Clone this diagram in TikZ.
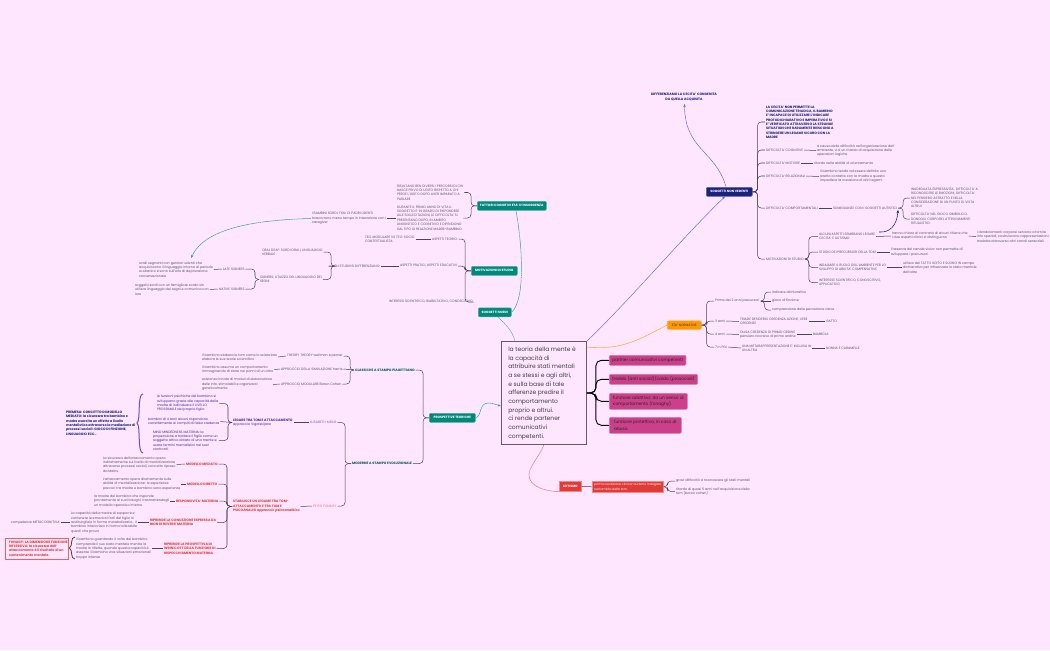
\documentclass[tikz,border=0pt]{standalone}
\usepackage{fontspec}
\setmainfont{Poppins}
\usetikzlibrary{arrows.meta}
\definecolor{bgc}{HTML}{FEE6FF}
\definecolor{txtc}{HTML}{5A5560}
\definecolor{linec}{HTML}{4A4550}
\definecolor{tealc}{HTML}{00897B}
\definecolor{navyc}{HTML}{1A237E}
\definecolor{magc}{HTML}{CC3F8A}
\definecolor{redc}{HTML}{E53935}
\definecolor{orgc}{HTML}{FF9800}
\definecolor{purc}{HTML}{4527A0}
\definecolor{pinkc}{HTML}{F0707F}
\def\pxu{0.75pt}
\tikzset{
  tx/.style={anchor=west,inner sep=0pt,outer sep=0.75pt,xshift=-0.75pt,align=left,text=txtc,font=\fontsize{2.5}{3.25}\selectfont},
  navybold/.style={tx,text=navyc,font=\fontsize{2.5}{3.25}\selectfont\bfseries},
  purtx/.style={tx,text=purc},
  purbold/.style={tx,text=purc,font=\fontsize{2.5}{3.25}\selectfont\bfseries},
  redbold/.style={tx,text=redc,font=\fontsize{2.5}{3.25}\selectfont\bfseries},
  redtx/.style={tx,text=pinkc},
  tealbold/.style={tx,text=teal!70!black,font=\fontsize{2.5}{3.25}\selectfont\bfseries},
  boxn/.style={anchor=north west,inner sep=0pt,rounded corners=0.8pt,line width=0.45pt,align=center,font=\fontsize{2.4}{3.2}\selectfont\bfseries,text=white},
  tealbox/.style={boxn,fill=tealc,draw=tealc!70!white},
  navybox/.style={boxn,fill=navyc,draw=navyc!70!white},
  magbox/.style={boxn,fill=magc,draw=magc!70!white,align=left,text=black!85,font=\fontsize{3.2}{4.9}\selectfont},
  redbox/.style={boxn,fill=redc,draw=redc!60!white,rounded corners=0pt},
  orgbox/.style={boxn,fill=orgc,draw=orgc!80!white,text=black!80,font=\fontsize{2.4}{3.2}\selectfont},
  conn/.style={draw=linec,line width=0.38pt,rounded corners=2.6pt},
  rootconn/.style={draw=black,line width=0.7pt,rounded corners=4pt},
  rel/.style={line width=0.4pt,dash pattern=on 1pt off 0.3pt},
  tip/.style={-{Stealth[length=2.4pt,width=1.8pt]}}
}
\newcommand\brr[3][4]{\draw[conn] (#2.east) -- ++(#1,0) |- (#3.west);}
\newcommand\brl[3][4]{\draw[conn] (#2.west) -- ++(-#1,0) |- (#3.east);}
\newcommand\strr[2]{\draw[conn] (#1.east) -- (#2.west);}
\begin{document}
\begin{tikzpicture}[x=0.75pt,y=-0.75pt]
\useasboundingbox (0,0) rectangle (1050,650);
\fill[bgc] (0,0) rectangle (1050,650);

% ===== root
\node[anchor=north west,draw=black!60!bgc,line width=0.7pt,inner sep=0pt,minimum width=85*\pxu,minimum height=103*\pxu] (root) at (501,341) {};
\node[anchor=north west,inner sep=0pt,align=left,text=black!75,font=\fontsize{4.5}{6.5}\selectfont] (roottx) at (508,346.5) {la teoria della mente è\\la capacità di\\attribuire stati mentali\\a se stessi e agli altri,\\e sulla base di tale\\afferenze predire il\\comportamento\\proprio e altrui.\\ci rende partener\\comunicativi\\competenti.};

% ===== magenta
\node[magbox,minimum width=76*\pxu,minimum height=10*\pxu,inner xsep=3*\pxu] (m1) at (609,355) {partner comunicativi competenti};
\node[magbox,minimum width=87*\pxu,minimum height=10*\pxu,inner xsep=3*\pxu] (m2) at (609,374) {fredda (anti sociali)/calda (prosociali)};
\node[magbox,minimum width=78*\pxu,minimum height=16*\pxu,inner xsep=3*\pxu] (m3) at (609,393) {funzione adattiva: da un senso al\\comportamento (fonaghy)};
\node[magbox,minimum width=72*\pxu,minimum height=16*\pxu,inner xsep=3*\pxu] (m4) at (609,417) {funzione protettiva, in caso di\\abuso.};
\foreach \m in {m1,m2,m3,m4}{\draw[rootconn] (root.east) -- ++(9,0) |- (\m.west);}

% ===== autismo
\node[redbox,minimum width=22*\pxu,minimum height=10*\pxu] (aut) at (559,481) {AUTISMO};
\node[redbox,minimum width=71*\pxu,minimum height=11*\pxu,font=\fontsize{2.3}{3.2}\selectfont,align=left] (aut2) at (592,481) {prima condizione clinica-autismo indagate\\nell'ambito della tom.};
\strr{aut}{aut2}
\node[tx] (aut3) at (676,481) {gravi difficoltà a riconoscere gli stati mentali};
\node[tx] (aut4) at (676,491.5) {ritardo di quasi 5 anni nell'acquisizione della\\tom (baron cohen)};
\brr{aut2}{aut3}\brr{aut2}{aut4}
\draw[rel,draw=pinkc] (aut.south west) .. controls (538,491) and (525,482) .. (530,470) .. controls (533,462) and (540,455) .. (544,444.5);

% ===== soggetti sordi and its cluster
\node[tealbox,minimum width=33*\pxu,minimum height=9*\pxu] (sordi) at (478,307.5) {SOGGETTI SORDI};
\node[tealbox,minimum width=46*\pxu,minimum height=9*\pxu] (motiv) at (471,266) {MOTIVAZIONI DI STUDIO};
\node[tealbox,minimum width=69*\pxu,minimum height=9*\pxu] (fatt) at (477,201) {FATTORI COGNITIVI ETA' D'INSORGENZA};
\draw[rel,draw=tealc!70!white,line width=0.35pt] (root.north west) ++(14,0) .. controls (512,330) and (505,324) .. (498,317);
\draw[rel,draw=tealc!80!white] (sordi.east) .. controls (525,300) and (523,250) .. (516,210.5);

\node[tx] (fa) at (397,192.5) {RISULTANO BEN DIVERSI I PERCORSI DI CHI\\NASCE PRIVO DI UDITO RISPETTO A CHI\\PERDE L'UDITO DOPO AVER IMPARATO A\\PARLARE};
\node[tx] (fb) at (397,218) {DURANTE IL PRIMO ANNO DI VITA IL\\SOGGETTO E' IN GRADO DI RISPONDERE\\ALLE SOLLECITAZIONI, LE DIFFICOLTA' SI\\PRESENTANO DOPO, IN AMBITO\\LINGUISTICO E COGNITIVO E DIPENDONO\\DAL TIPO DI RELAZIONE MADRE-BAMBINO.};
\brl[6]{fatt}{fa}\brl[6]{fatt}{fb}
\node[tx] (fc) at (312,218.5) {I BAMBINI SORDI, FIGLI DI PADRI UDENTI\\trascorrono meno tempo in interazione con i\\caregiver};
\draw[conn] (fb.west) -- (fc.east |- fb.west);
\coordinate (sordiseg) at (191,258);
\draw[rel,draw=tealc!80!white,tip] (fc.west) .. controls (255,220) and (205,228) .. (sordiseg);

\node[tx] (ma) at (432,239) {ASPETTI TEORICI};
\node[tx] (mb) at (400,266) {ASPETTI PRATICI, ASPETTI EDUCATIVI};
\node[tx] (mc) at (389,302) {INTERESSI SCIENTIFICO, RIABILITATIVO, CONOSCITIVO};
\brl[6]{motiv}{ma}\brl[6]{motiv}{mb}\brl[6]{motiv}{mc}
\node[tx] (maa) at (365,239.5) {TEO. MODULARE VS TEO. SOCIO\\CONTESTUALISTA};
\draw[conn] (ma.west) -- (maa.east |- ma.west);
\node[tx] (mba) at (334,266) {GLI STUDIOSI DIFFERENZIANO:};
\strr{mba}{mb}
\node[tx] (st1) at (262,252) {ORAL DEAF: SORDI ORALI, LINGUAGGIO\\VERBALE};
\node[tx] (st2) at (260,279.5) {SIGNERS: UTILIZZO DEL LINGUAGGIO DEI\\SEGNI};
\draw[conn] (mba.west) -- ++(-1,0) -- ++(-1,0) |- (st1.east);
\draw[conn] (mba.west) -- ++(-1,0) -- ++(-1,0) |- (st2.east);
\node[tx] (s1) at (223,269) {LATE SIGNERS};
\node[tx] (s2) at (219,289) {NATIVE SIGNERS};
\brl[4]{st2}{s1}\brl[4]{st2}{s2}
\node[tx] (s1a) at (139,269.5) {sordi segnanti con genitori udenti che\\acquisiscono il linguaggio intorno al periodo\\scolastico e sono sull'orlo di deprivazione\\conversazionale};
\node[tx] (s2a) at (135,289.5) {soggetti sordi con un famigliare sordo sin\\utilizza linguaggio dei segni e comunica con\\loro};
\strr{s1a}{s1}\strr{s2a}{s2}

% ===== soggetti non vedenti
\node[navybox,minimum width=46*\pxu,minimum height=9*\pxu] (nv) at (706,187) {SOGGETTI NON VEDENTI};
\draw[rel,draw=blue!50!gray!80,tip] (root.north east) .. controls (630,300) and (680,240) .. (725,196.5);
\node[navybold,anchor=north,xshift=0.75pt,align=center,font=\fontsize{2.5}{3.25}\selectfont\bfseries] (diff) at (684,92.5) {DIFFERENZIAMO LA CECITA' CONGENITA\\DA QUELLA ACQUISITA};
\draw[rel,draw=blue!50!gray!80,tip] (726,186.5) .. controls (715,150) and (685,150) .. (684.5,104);
\node[navybold] (v0) at (766,122) {LA CECITA' NON PERMETTE LA\\COMUNICAZIONE TRIADICA, IL BAMBINO\\E' INCAPACE DI UTILIZZARE L'INDICARE\\PROTODICHIARATIVO E IMPERATIVO E SI\\E' VERIFICATO ATTRAVERSO LA STRANGE\\SITUATION CHE RARAMENTE RIESCONO A\\STRINGERE UN LEGAME SICURO CON LA\\MADRE};
\node[tx] (v1) at (766,150) {DIFFICOLTA' COGNITIVE};
\node[tx] (v2) at (766,163) {DIFFICOLTA' MOTORIE};
\node[tx] (v3) at (766,176) {DIFFICOLTA' RELAZIONALI};
\node[tx] (v4) at (766,208) {DIFFICOLTA' COMPORTAMENTALI};
\node[tx] (v5) at (766,259) {MOTIVAZIONI DI STUDIO};
\foreach \v in {v0,v1,v2,v3,v4,v5}{\draw[conn] (nv.east) -- ++(5,0) |- (\v.west);}
\node[tx] (v1a) at (817,150.5) {a causa delle difficoltà nell'organizzazione dell'\\ambiente, vi è un ritardo di acquisizione delle\\operazioni logiche};
\node[tx] (v2a) at (814,163) {ritardo nella abilità di orientamento};
\node[tx] (v3a) at (820,176.5) {il bambino tende ad essere definito uno\\stretto contatto con la madre e questo\\impedisce la creazione di altri legami};
\node[tx] (v4a) at (833,208) {SOMIGLIANZE CON I SOGGETTI AUTISTICI};
\strr{v1}{v1a}\strr{v2}{v2a}\strr{v3}{v3a}\strr{v4}{v4a}
\node[tx] (v4b) at (911,198) {INADEGUATA ESPRESSIVITA', DIFFICOLTA' A\\RICONOSCERE LE EMOZIONI, DIFFICOLTA'\\NEL PENSIERO ASTRATTO E NELLA\\CONSIDERAZIONE DI UN PUNTO DI VISTA\\ALTRUI};
\node[tx] (v4c) at (911,219) {DIFFICOLTA' NEL GIOCO SIMBOLICO,\\DONDOLII CORPOREI, ATTEGGIAMENTI\\RITUALISTICI};
\brr[5]{v4a}{v4b}\brr[5]{v4a}{v4c}
\node[tx] (w1) at (819,236.5) {ALCUNI ASPETTI SEMBRANO LEGARE\\CECITA' E AUTISMO};
\node[tx] (w2) at (819,252) {STUDIO DEI PRECURSORI DELLA TOM};
\node[tx] (w3) at (819,267.5) {INDAGARE IL RUOLO DELL'AMBIENTE PER LO\\SVILUPPO DI ABILITA' COMPENSATIVE};
\node[tx] (w4) at (819,282.5) {INTERESSE SCIENTIFICO, CONOSCITIVO,\\APPLICATIVO};
\foreach \w in {w1,w2,w3,w4}{\draw[conn] (v5.east) -- ++(4,0) |- (\w.west);}
\node[tx] (w1a) at (892,236) {hanno chiaro al contrario di alcuni ritiene che\\i due aspetti clinici si distinguono};
\node[tx] (w1b) at (977,236.5) {i dondolamenti corporei servono a fornire\\info spaziali, costruiscono rappresentazioni\\tradotte attraverso altri canali sensoriali};
\node[tx] (w2a) at (891,252) {l'assenza del canale visivo non permette di\\sviluppare i precursori};
\node[tx] (w3a) at (903,267.5) {utilizzo del TATTO UDITO E SUONO IN campo\\dichiarativo per influenzare lo stato mentale\\dell'altro};
\strr{w1}{w1a}\strr{w1a}{w1b}\strr{w2}{w2a}\strr{w3}{w3a}
\draw[rel,draw=blue!70!black,tip] (879,232) .. controls (890,233) and (897,225) .. (898,210);

% ===== eta' normative
\node[orgbox,minimum width=34*\pxu,minimum height=8.5*\pxu] (eta) at (667,320.5) {ETA' NORMATIVE};
\draw[rel,draw=orgc!90!white] (587,347) .. controls (620,350) and (635,342) .. (eta.west);
\node[tx] (e1) at (715,301) {Prima dei 2 anni precursori};
\node[tx] (e2) at (715,321) {3 anni};
\node[tx] (e3) at (715,334) {4 anni};
\node[tx] (e4) at (715,347) {7 in PGI};
\foreach \e in {e1,e2,e3,e4}{\draw[conn] (eta.east) -- ++(5,0) |- (\e.west);}
\node[tx] (e1a) at (772,292) {indicare dichiarativo};
\node[tx] (e1b) at (772,301) {gioco di finzione};
\node[tx] (e1c) at (772,310) {comprensione delle percezione visive};
\brr[4]{e1}{e1a}\strr{e1}{e1b}\brr[4]{e1}{e1c}
\node[tx] (e2a) at (740,321.5) {TRIADE DESIDERIO CREDENZA AZIONE, VERE\\CREDENZE};
\node[tx] (e3a) at (740,334.5) {FALSA CREDENZA DI PRIMO ORDINE\\pensiero ricorsivo di primo ordine};
\node[tx] (e4a) at (742,348) {UNA METARAPPRESENTAZIONE E' INCLUSA IN\\UN ALTRA};
\strr{e2}{e2a}\strr{e3}{e3a}\strr{e4}{e4a}
\node[tx] (e2b) at (826,321.5) {GATTO};
\node[tx] (e3b) at (813,334.5) {BAMBOLA};
\node[tx] (e4b) at (826,348) {NONNA E CARAMELLE};
\strr{e2a}{e2b}\strr{e3a}{e3b}\strr{e4a}{e4b}

% ===== prospettive teoriche
\node[tealbox,minimum width=46*\pxu,minimum height=9*\pxu] (pro) at (429,413) {PROSPETTIVE TEORICHE};
\draw[rel,draw=tealc!80!white,tip] (pro.east) .. controls (482,416) and (479,403) .. (488,403) .. controls (493,403) and (497,405) .. (501,406);
\node[tealbold] (cl) at (355,370) {CLASSICHE A STAMPO PIAGETTIANO};
\node[tealbold] (mo) at (352,463.5) {MODERNE A STAMPO EVOLUZIONALE};
\brl[6]{pro}{cl}\brl[6]{pro}{mo}
\node[tx] (c1) at (287,356) {THEORY THEORY wellman e perner};
\node[tx] (c2) at (281,369) {APPROCCIO DELLA SIMULAZIONE harris};
\node[tx] (c3) at (281,384) {APPROCCIO MODULARE Baron Cohen};
\brl[4]{cl}{c1}\strr{c2}{cl}\brl[4]{cl}{c3}
\node[tx] (c1a) at (202,357) {il bambino elabora le tom come lo scienziato\\elabora le sue teorie scientifica};
\node[tx] (c2a) at (202,369.5) {il bambino assume un comportamento\\immaginando di stare nei panni di un altro};
\node[tx] (c3a) at (202,384.5) {esistenza innata di moduli di elaborazione\\delle info, stimolabili e organizzati\\geneticamente};
\strr{c1a}{c1}\strr{c2a}{c2}\strr{c3a}{c3}

\node[tx,text=purc!70!white] (me) at (310,422.5) {ELISABETH MEINS};
\node[redtx] (pf) at (313,506) {PETER FONAGY};
\brl[6]{mo}{me}\brl[6]{mo}{pf}
\node[purbold] (le) at (233,422.5) {LEGARE TRA TOM E ATTACCAMENTO\\\normalfont approccio Vigotskijano};
\strr{le}{me}
\node[purtx] (l1) at (157,403.5) {le funzioni psichiche del bambino si\\sviluppano grazie alle capacità della\\madre di individuare il LIVELLO\\PROSSIMALE del proprio figlio};
\node[purtx] (l2) at (148,421.5) {bambini di 4 anni alcuni rispondono\\correttamente ai compiti di falsa credenza};
\node[purtx] (l3) at (153,440.5) {MIND MINDEDNESS MATERNA: la\\propensione a trattare il figlio come un\\soggetto attivo dotato di una mente e\\usare termini mentalistici nei suoi\\confronti.};
\brl[4]{le}{l1}\strr{l2}{le}\brl[4]{le}{l3}
\draw[draw=purc!80!white,line width=0.75pt] (143,394) .. controls (137,394) and (141,420) .. (137,423) .. controls (141,426) and (137,453) .. (143,453);
\node[tx,text=navyc,font=\fontsize{2.5}{3.25}\selectfont\bfseries] (prem) at (66,423) {PREMESA: CONCETTO DI MODELLO\\MEDIATO: la sicurezza tra bambino e\\madre esercita un effetto a livello\\mentalistico attraverso la mediazione di\\processi sociali: GIOCO DI FINZIONE,\\LINGUAGGIO ECC..};

\node[redbold] (st) at (233,506.5) {STABILISCE UN LEGAME TRA TOM-\\ATTACCAMENTO E TRA TOM E\\PSICOANALISI \itshape approccio psicoanalitico};
\strr{st}{pf}
\node[redbold] (f1) at (186,464) {MODELLO MEDIATO};
\node[redbold] (f2) at (187,484) {MODELLO DIRETTO};
\node[redbold] (f3) at (176,501) {RESPONSIVITA' MATERNA};
\node[redbold] (f4) at (150,522.5) {RIPRENDE LA CONCEZIONE ESPRESSA DA\\BION DI REVERIE MATERNA};
\node[redbold] (f5) at (164,548.5) {RIPRENDE LA PROSPETTIVA DI\\WINNICOTT DELLA FUNZIONE DI\\RISPECCHIAMENTO MATERNA};
\foreach \f in {f1,f2,f3,f4,f5}{\draw[conn] (st.west) -- ++(-5,0) |- (\f.east);}
\node[tx] (f1a) at (103,464.5) {La sicurezza dell'attaccamento opera\\indirettamente sul livello di mentalizzazione\\attraverso processi sociali, concetto ripreso\\da Meins.};
\node[tx] (f2a) at (103,484) {L'attaccamento opera direttamente sulle\\abilità di mentalizzazione: le esperienze\\precoci tra madre e bambino sono esperienze};
\node[tx] (f3a) at (94,501) {la madre del bambino che risponde\\prontamente ai suoi bisogni, trasmettendogli\\un modello operativo interno};
\node[tx] (f4a) at (71,522.5) {La capacità della madre di sopporre e\\contenere le emozioni forti del figlio in\\restituirgliele in forma metabolizzata... Il\\bambino interiorizza in forma tollerabile\\questi che prova};
\node[tx] (f5a) at (76,548.5) {il bambino guardando il volto del bambino\\comprende il suo stato mentale mentre la\\madre lo riflette, quando questa capacità è\\assente il bambino vive situazioni emozionali\\troppo intense};
\strr{f1a}{f1}\strr{f2a}{f2}\strr{f3a}{f3}\strr{f4a}{f4}\strr{f5a}{f5}
\node[tx] (f4b) at (11,522.5) {competenze METACOGNITIVA};
\strr{f4b}{f4a}
\draw[draw=black!75,line width=0.6pt] (75,537) .. controls (70,537) and (73,546) .. (69.5,548) .. controls (73,550) and (70,559) .. (75,559);
\node[anchor=north west,draw=redc!80!white,line width=0.5pt,fill=bgc,inner sep=0pt,minimum width=63*\pxu,minimum height=21*\pxu] (fb1) at (5,538) {};
\node[redbold,anchor=west] (fb2) at (9,548.5) {FONAGY: LA DIMENSIONE FUNZIONE\\RIFLESSIVA: la sicurezza dell'\\attaccamento è il risultato di un\\contenimento mentale.};
\end{tikzpicture}
\end{document}
